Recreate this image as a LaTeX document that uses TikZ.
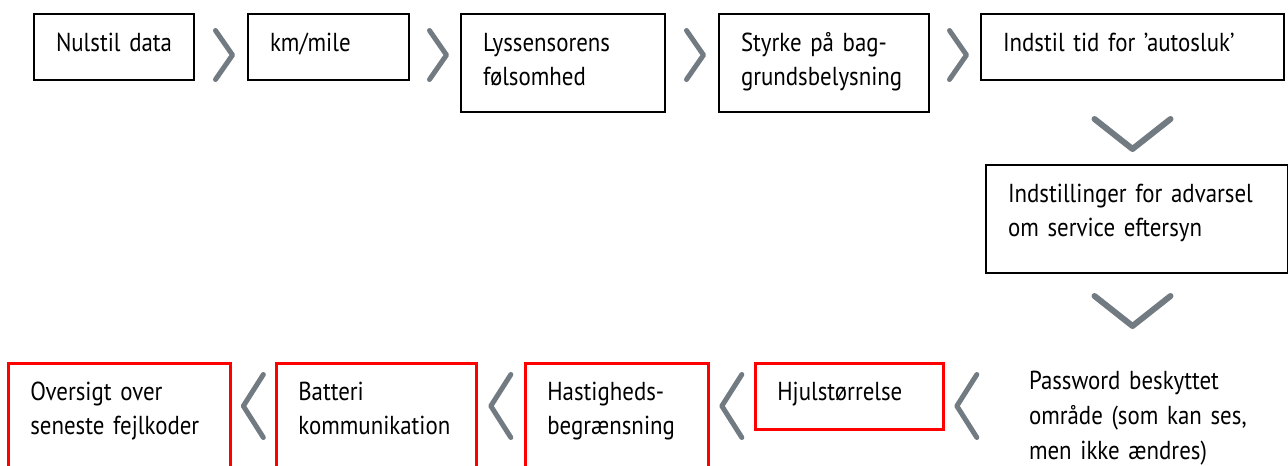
\documentclass[tikz,border=0pt]{standalone}
\usepackage{fontspec}
\setmainfont{PT Sans}[FakeStretch=0.88]
\usetikzlibrary{calc}
\hyphenpenalty=10000
\definecolor{chevgray}{RGB}{114,123,129}
\definecolor{markred}{RGB}{255,0,0}
\begin{document}
\begin{tikzpicture}[x=0.75pt,y=-0.75pt]
        % Styles
        \tikzstyle{menu}=[draw,line width=1.5pt,anchor=north west,inner xsep=16.5pt,inner ysep=0pt,text height=27.75pt,align=left,font=\fontsize{19.5pt}{25.5pt}\selectfont]
        \tikzstyle{locked}=[menu,draw=markred,line width=2pt]
        \tikzstyle{chevron}=[draw=chevgray,line width=3.75pt,line cap=round,line join=round]
        \tikzset{chevr/.pic={\draw[chevron] (-8.5,-24.5) -- (8.5,0) -- (-8.5,24.5);},
                 chevl/.pic={\draw[chevron] (10,-31.5) -- (-10,0) -- (10,31.5);},
                 chevd/.pic={\draw[chevron,line width=4.5pt] (-38,-15) -- (0,15) -- (38,-15);}}
        \clip (0,0) rectangle (1288,465);
        %top row
        \node[menu,text width=87pt,text depth=21.75pt] (nulstil) at (33,13) {\mbox{Nulstil data}};
        \node[menu,text width=87.75pt,text depth=21.75pt] (km) at (247,13) {km/mile};
        \node[menu,text width=120pt,text depth=45.75pt] (lys) at (460,13) {Lyssensorens\\følsomhed};
        \node[menu,text width=124.5pt,text depth=45.75pt] (styrke) at (718,13) {Styrke på bag-\\grundsbelysning};
        \node[menu,text width=194.25pt,text depth=21.75pt] (autosluk) at (980,13) {Indstil tid for ’autosluk’};
        \foreach \a/\b in {nulstil/km,km/lys,lys/styrke,styrke/autosluk}
            \pic at ($(\a.north east)!.5!(\b.north west)+(3,42)$) {chevr};
        %right column
        \node[menu,text width=193.5pt,text depth=53.25pt] (advarsel) at (985,164) {Indstillinger for advarsel\\om service eftersyn};
        \pic at ($(autosluk.south)+(0,53)$) {chevd};
        %bottom row
        \node[menu,draw=none,inner xsep=29.25pt,text height=19.5pt,text width=200pt,text depth=60pt,font=\fontsize{19.5pt}{26.25pt}\selectfont] (pw) at (989,362) {Password beskyttet\\område (som kan ses,\\men ikke ændres)};
        \pic at ($(autosluk.south |- advarsel.south)+(0,37)$) {chevd};
        \node[locked,text width=108pt,text depth=21.75pt] (hjul) at (754,362) {Hjulstørrelse};
        \node[locked,text width=104.25pt,text depth=75pt] (hast) at (524,362) {Hastigheds-\\begrænsning};
        \node[locked,text width=117pt,text depth=75pt] (batt) at (275,362) {Batteri\\kommunikation};
        \node[locked,text width=133.5pt,text depth=75pt] (overs) at (7,362) {Oversigt over\\seneste fejlkoder};
        \foreach \a/\b in {overs/batt,batt/hast,hast/hjul,hjul/pw}
            \pic at ($(\a.north east)!.5!(\b.north west)+(0,44)$) {chevl};
\end{tikzpicture}
\end{document}
